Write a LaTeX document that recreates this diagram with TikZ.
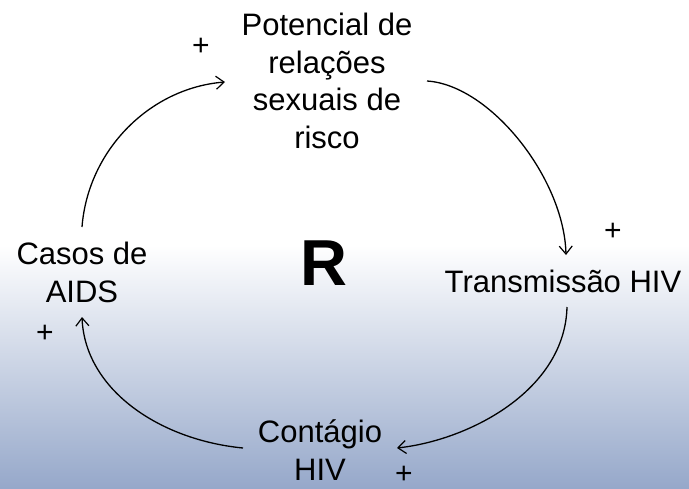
\documentclass[tikz,border=0pt]{standalone}
\usepackage{fontspec}
\setmainfont{Liberation Sans}
\usetikzlibrary{arrows.meta}
\definecolor{bgblue}{RGB}{150,168,202}
\tikzset{
  lbl/.style={align=center, inner sep=0pt, anchor=base, font=\fontsize{31}{37.5}\selectfont},
  plus/.style={inner sep=0pt, anchor=center, font=\fontsize{30}{34}\selectfont},
  link/.style={line width=1.3pt, -{Straight Barb[length=8pt,width=13pt,line width=1.2pt]}}
}
\begin{document}
\begin{tikzpicture}[x=1pt,y=-1pt]
\useasboundingbox (0,0) rectangle (689,488);
\fill[white] (0,0) rectangle (689,245);
\shade[top color=white, bottom color=bgblue] (0,245) rectangle (689,488);
\node[lbl] (pot) at (327,148) {Potencial de\\relações\\sexuais de\\risco};
\node[lbl] (tra) at (563,292) {Transmissão HIV};
\node[lbl] (cas) at (82,302) {Casos de\\AIDS};
\node[lbl] (con) at (320,480) {Contágio\\HIV};
\node[inner sep=0pt, anchor=base, font=\bfseries\fontsize{65}{70}\selectfont] (r) at (324,285) {R};
\node[plus] (p1) at (201,47) {+};
\node[plus] (p2) at (613,232) {+};
\node[plus] (p3) at (45,334) {+};
\node[plus] (p4) at (404,475) {+};
\coordinate (a1s) at (82,227);
\coordinate (a1e) at (225,82);
\coordinate (a2s) at (427,81);
\coordinate (a2e) at (566,255);
\coordinate (a3s) at (567,307);
\coordinate (a3e) at (397,448);
\coordinate (a4s) at (243,448);
\coordinate (a4e) at (82,317);
\draw[link] (a1s) .. controls (88,150) and (150,88) .. (a1e);
\draw[link] (a2s) .. controls (490,85) and (564,178) .. (a2e);
\draw[link] (a3s) .. controls (565,390) and (470,440) .. (a3e);
\draw[link] (a4s) .. controls (160,440) and (85,390) .. (a4e);
\end{tikzpicture}
\end{document}
